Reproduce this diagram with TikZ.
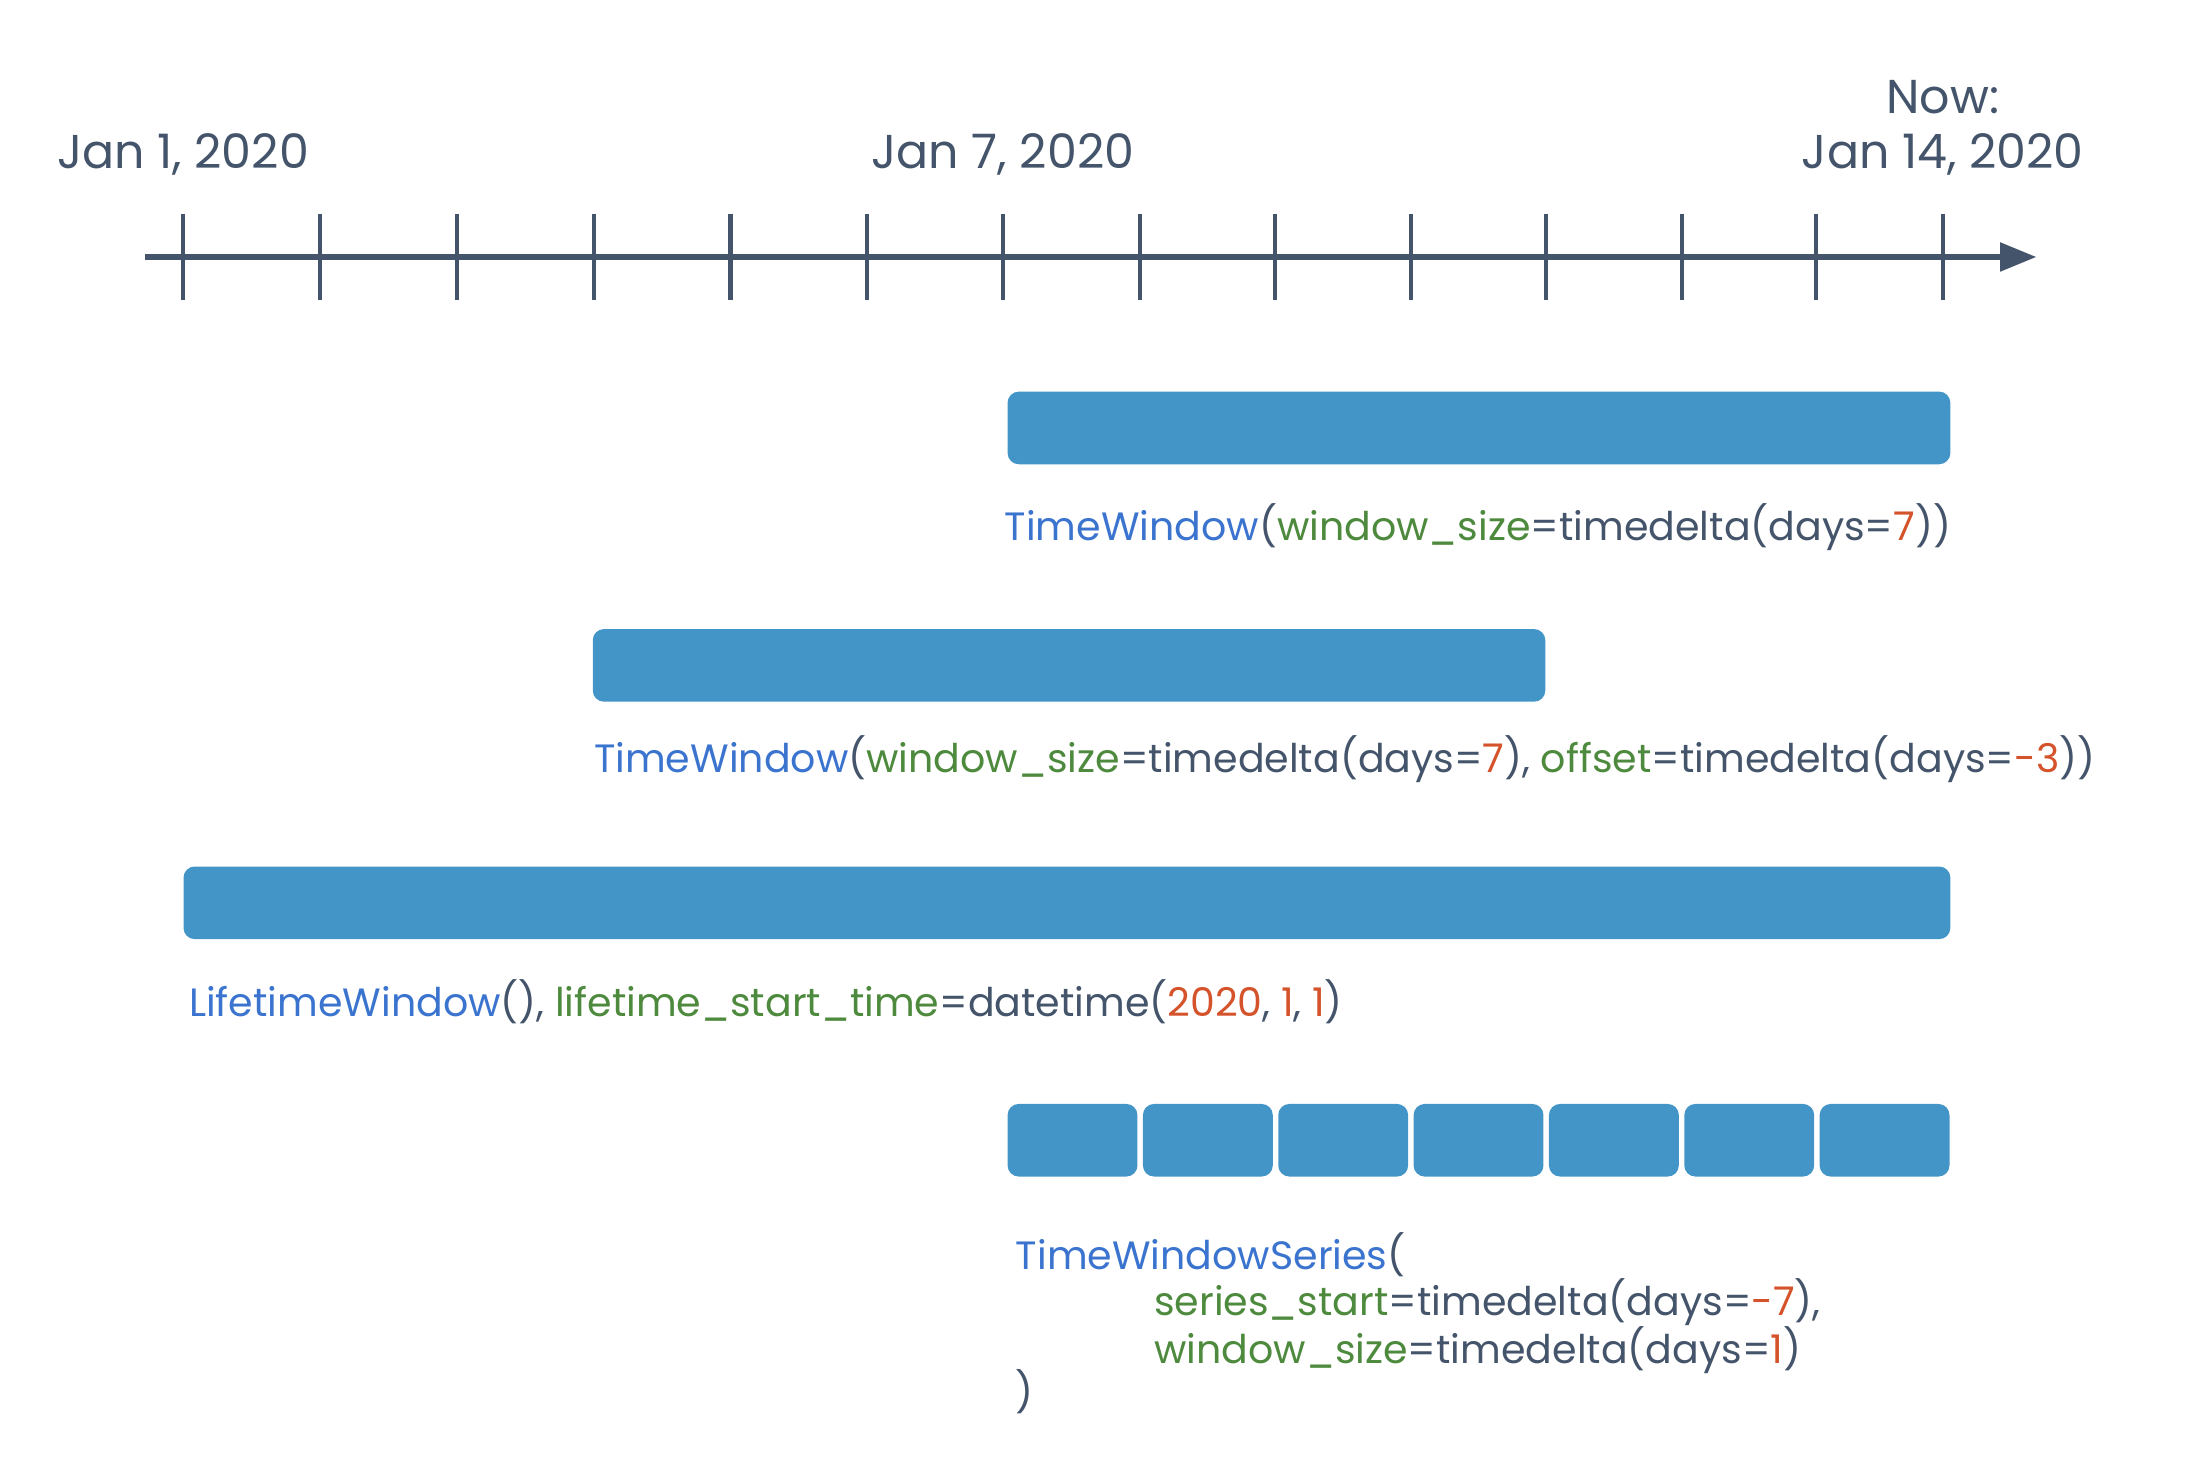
\documentclass[tikz,border=0pt]{standalone}
\usepackage{fontspec}
\setmainfont{Poppins}
\usetikzlibrary{arrows.meta,positioning}

\definecolor{axisgray}{HTML}{44546A}
\definecolor{barblue}{HTML}{4495C7}
\definecolor{fnblue}{HTML}{3B74CF}
\definecolor{kwgreen}{HTML}{4E8A3E}
\definecolor{numred}{HTML}{D4532B}

\newcommand{\cfn}[1]{\textcolor{fnblue}{#1}}
\newcommand{\ckw}[1]{\textcolor{kwgreen}{#1}}
\newcommand{\cnum}[1]{\textcolor{numred}{#1}}

\begin{document}
\begin{tikzpicture}[x=0.5pt, y=-0.5pt,
  axisline/.style={axisgray, line width=2pt, -{Triangle[length=13pt,width=10pt]}},
  tickmark/.style={axisgray, line width=1.5pt},
  date/.style={font=\fontsize{17}{20}\selectfont, text=axisgray, inner sep=0pt, anchor=base},
  code/.style={font=\fontsize{14.15}{16}\selectfont, text=axisgray, inner sep=0pt, anchor=base west},
  bar/.style={fill=barblue, rounded corners=4pt, inner sep=0pt, anchor=north west, minimum height=26pt}]
\useasboundingbox (0,0) rectangle (1568,1052);

% time axis
\coordinate (start) at (104,184);
\coordinate (tip) at (1458,184);
\draw[axisline] (start) -- (tip);
\foreach \x [count=\i] in {131,229,327,425,523,621,718,816,913,1010,1107,1204,1300,1391}{
  \coordinate (day\i) at (\x,184);
  \draw[tickmark] ([yshift=15.5pt]day\i) -- ([yshift=-15.5pt]day\i);
}
\node[date] (jan1) at ([yshift=31.5pt]day1) {Jan 1, 2020};
\node[date] (jan7) at ([yshift=31.5pt]day7) {Jan 7, 2020};
\node[date] (jan14) at ([yshift=31.5pt]day14) {Jan 14, 2020};
\node[date] (now) at ([yshift=20pt]jan14.base) {Now:};

% windows
\node[bar, minimum width=337.5pt] (win7) at (721,280) {};
\node[code] (lbl7) at (719,387)
  {\cfn{TimeWindow}(\ckw{window\_size}=timedelta(days=\cnum{7}))};

\node[bar, minimum width=341pt] (winoff) at (424,450) {};
\node[code] (lbloff) at (425,553)
  {\cfn{TimeWindow}(\ckw{window\_size}=timedelta(days=\cnum{7}), \ckw{offset}=timedelta(days=\cnum{-3}))};

\node[bar, minimum width=632.5pt] (life) at (131,620) {};
\node[code] (lbllife) at (135,728)
  {\cfn{LifetimeWindow}(), \ckw{lifetime\_start\_time}=datetime(\cnum{2020}, \cnum{1}, \cnum{1})};

% series of one day windows
\foreach \i in {0,...,6}{
  \node[bar, minimum width=46.5pt] (ser\i) at (721+96.9*\i,790) {};
}
\node[code] (ser1a) at (727,909) {\cfn{TimeWindowSeries}(};
\node[code] (ser1b) at (826,942) {\ckw{series\_start}=timedelta(days=\cnum{-7}),};
\node[code] (ser1c) at (826,976) {\ckw{window\_size}=timedelta(days=\cnum{1})};
\node[code] (ser1d) at (727,1007) {)};
\end{tikzpicture}
\end{document}
